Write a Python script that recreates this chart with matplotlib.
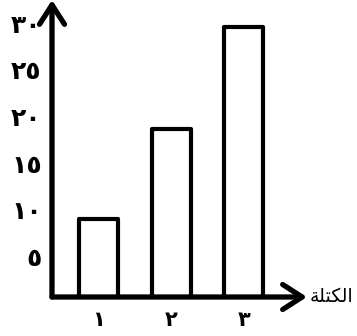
import matplotlib
matplotlib.use("Agg")
import matplotlib.pyplot as plt

# القيم المقروءة من الرسم
bars_x = [1, 2, 3]
bars_h = [10, 19.7, 30.6]
x_labels = ["١", "٢", "٣"]
y_ticks = [5, 10, 15, 20, 25, 30]
y_labels = ["٥", "١٠", "١٥", "٢٠", "٢٥", "٣٠"]
# "الكتلة" بأشكال العرض لأن matplotlib لا يشكّل الحروف العربية
x_title = "\uFE94\uFEE0\uFE98\uFEDC\uFEDF\uFE8D"

plt.rcParams['font.family'] = ['DejaVu Sans']

fig = plt.figure(figsize=(3.57, 3.36), dpi=100)
ax = fig.add_axes([52/357, 39/336, 255/357, 297/336])

ax.bar(bars_x, bars_h, width=0.54, facecolor='white', edgecolor='black',
       linewidth=3.0, joinstyle='round')

ax.set_xlim(0.36, 3.87)
ax.set_ylim(1.7, 33.5)
for s in ax.spines.values():
    s.set_visible(False)

# محاور بأسهم
arrow = dict(arrowstyle="->,head_length=0.7,head_width=0.45", lw=3.8, color='black',
             shrinkA=0, shrinkB=0, mutation_scale=20)
ax.annotate("", xy=(1, 0), xytext=(0, 0), xycoords='axes fraction',
            arrowprops=arrow, annotation_clip=False)
ax.annotate("", xy=(0, 1), xytext=(0, 0), xycoords='axes fraction',
            arrowprops=arrow, annotation_clip=False)

ax.set_yticks(y_ticks)
ax.set_yticklabels(y_labels, fontsize=18, fontweight='bold', va='baseline')
ax.tick_params(axis='y', length=3, width=1.5, direction='inout', pad=6)
ax.set_xticks(bars_x)
ax.set_xticklabels(x_labels, fontsize=15, fontweight='bold')
ax.tick_params(axis='x', length=0, pad=9)

ax.text(1.012, 0, x_title, transform=ax.transAxes, fontsize=13.5,
        ha='left', va='center', clip_on=False)

fig.savefig("out.png", dpi=100)
